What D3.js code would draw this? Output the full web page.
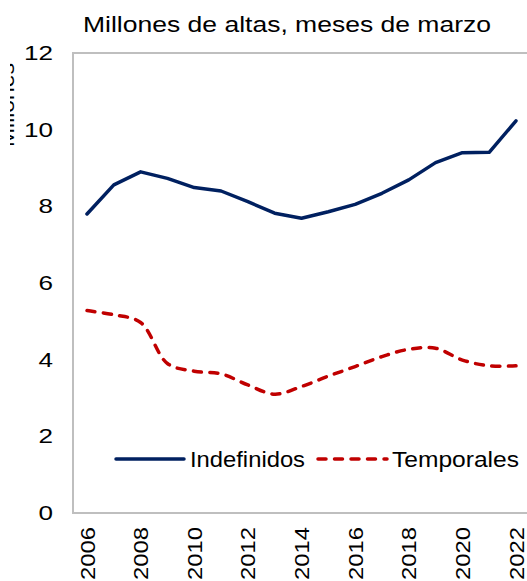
<!DOCTYPE html>
<html>
<head>
<meta charset="utf-8">
<script src="https://cdn.jsdelivr.net/npm/d3@7"></script>
<style>
  body { margin: 0; background: #fff; }
  svg { display: block; font-family: "Liberation Sans", Arial, sans-serif; }
</style>
</head>
<body>
<div id="main"></div>
<script>
var years = [2006, 2007, 2008, 2009, 2010, 2011, 2012, 2013, 2014, 2015, 2016, 2017, 2018, 2019, 2020, 2021, 2022];
var indefinidos = [7.80, 8.56, 8.90, 8.73, 8.49, 8.40, 8.12, 7.82, 7.69, 7.86, 8.05, 8.34, 8.69, 9.14, 9.40, 9.41, 10.23];
var temporales = [5.28, 5.17, 4.97, 3.90, 3.70, 3.63, 3.34, 3.10, 3.30, 3.57, 3.82, 4.08, 4.27, 4.30, 3.99, 3.84, 3.84];
var yTicks = [0, 2, 4, 6, 8, 10, 12];
var xTicks = [2006, 2008, 2010, 2012, 2014, 2016, 2018, 2020, 2022];

const width = 527;
const height = 581;

const svg = d3.select("#main")
    .append("svg")
    .attr("width", width)
    .attr("height", height);

const xScale = d3.scaleLinear()
    .domain([2006, 2022])
    .range([87, 516]);

const yScale = d3.scaleLinear()
    .domain([0, 12])
    .range([513, 53]);

// plot area border (runs off the right edge)
svg.append("rect")
    .attr("x", 73)
    .attr("y", yScale(12))
    .attr("width", 470)
    .attr("height", yScale(0) - yScale(12))
    .style("fill", "none")
    .style("stroke", "#bfbfbf")
    .style("stroke-width", 2);

// title (the original text is set wide)
svg.append("text")
    .attr("x", 83)
    .attr("y", 32)
    .attr("textLength", 408)
    .attr("lengthAdjust", "spacingAndGlyphs")
    .style("font-size", "22px")
    .style("fill", "#000")
    .text("Millones de altas, meses de marzo");

// axis label, cut by the crop of the original
svg.append("clipPath")
    .attr("id", "labelClip")
    .append("rect")
    .attr("x", 10).attr("y", 0)
    .attr("width", 20).attr("height", 200);

svg.append("g")
    .attr("clip-path", "url(#labelClip)")
    .append("text")
    .attr("transform", "translate(13.5,105) rotate(-90)")
    .attr("x", -42)
    .attr("textLength", 84)
    .attr("lengthAdjust", "spacingAndGlyphs")
    .style("font-size", "20px")
    .text("Millones");

const yAxis = d3.axisLeft(yScale)
    .tickValues(yTicks)
    .tickSize(0)
    .tickPadding(0);

svg.append("g")
    .attr("transform", "translate(53,0)")
    .call(yAxis)
    .call(g => g.select(".domain").remove())
    .selectAll("text")
    .style("font-size", "20px")
    .style("font-family", "Liberation Sans, Arial, sans-serif")
    .style("fill", "#000")
    .attr("textLength", d => String(d).length * 14.5)
    .attr("lengthAdjust", "spacingAndGlyphs");

const xAxis = d3.axisBottom(xScale)
    .tickValues(xTicks)
    .tickFormat(d3.format("d"))
    .tickSize(0);

svg.append("g")
    .attr("transform", "translate(0,527)")
    .call(xAxis)
    .call(g => g.select(".domain").remove())
    .selectAll("text")
    .style("font-size", "20px")
    .style("font-family", "Liberation Sans, Arial, sans-serif")
    .style("fill", "#000")
    .attr("text-anchor", "end")
    .attr("transform", "rotate(-90)")
    .attr("x", 0)
    .attr("y", 0)
    .attr("dy", "0.35em")
    .attr("textLength", 53)
    .attr("lengthAdjust", "spacingAndGlyphs");

const lineIndef = d3.line()
    .x((d, i) => xScale(years[i]))
    .y(d => yScale(d));

const lineTemp = d3.line()
    .x((d, i) => xScale(years[i]))
    .y(d => yScale(d))
    .curve(d3.curveCatmullRom.alpha(0.5));

svg.append("path")
    .datum(indefinidos)
    .attr("d", lineIndef)
    .style("fill", "none")
    .style("stroke", "#002060")
    .style("stroke-width", 3.5)
    .style("stroke-linejoin", "round")
    .style("stroke-linecap", "round");

svg.append("path")
    .datum(temporales)
    .attr("d", lineTemp)
    .style("fill", "none")
    .style("stroke", "#c00000")
    .style("stroke-width", 3.5)
    .style("stroke-dasharray", "8,8.5")
    .style("stroke-linecap", "round");

// legend
const legend = svg.append("g").attr("id", "legend");

legend.append("line")
    .attr("x1", 116).attr("x2", 184)
    .attr("y1", 459).attr("y2", 459)
    .style("stroke", "#002060")
    .style("stroke-width", 3.5)
    .style("stroke-linecap", "round");

legend.append("text")
    .attr("x", 190)
    .attr("y", 467)
    .attr("textLength", 115)
    .attr("lengthAdjust", "spacingAndGlyphs")
    .style("font-size", "22px")
    .text("Indefinidos");

legend.append("line")
    .attr("x1", 318).attr("x2", 387)
    .attr("y1", 459).attr("y2", 459)
    .style("stroke", "#c00000")
    .style("stroke-width", 3.5)
    .style("stroke-dasharray", "8,8.5")
    .style("stroke-linecap", "round");

legend.append("text")
    .attr("x", 392)
    .attr("y", 467)
    .attr("textLength", 127)
    .attr("lengthAdjust", "spacingAndGlyphs")
    .style("font-size", "22px")
    .text("Temporales");
</script>
</body>
</html>
